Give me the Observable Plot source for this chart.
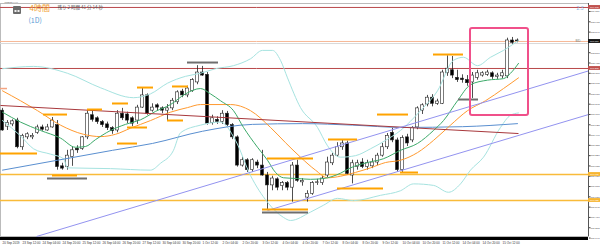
<!DOCTYPE html>
<html><head><meta charset="utf-8">
<script src="https://cdn.jsdelivr.net/npm/d3@7"></script>
<script src="https://cdn.jsdelivr.net/npm/@observablehq/plot@0.6"></script>
<style>
html,body{margin:0;padding:0;background:#fff;}
#chart svg{display:block;}
</style></head><body><div id="chart"></div>
<script>
// ---- candles (USDJPY H4), index 0 = 20 Sep 20:00 ----
const candleOpen = [107.81,107.60,107.63,107.68,107.33,107.46,107.46,107.52,107.59,107.55,107.59,107.62,107.08,107.07,107.20,107.31,107.31,107.46,107.75,107.71,107.66,107.63,107.58,107.55,107.77,107.76,107.71,107.68,107.85,108.01,107.81,107.88,107.84,107.81,107.84,107.92,108.06,108.01,108.07,108.18,108.31,108.28,107.65,107.69,107.66,107.77,107.62,107.46,107.09,107.16,107.03,107.13,107.09,106.96,106.83,106.91,106.82,106.86,106.80,107.09,106.87,106.67,106.72,106.86,106.86,106.96,107.12,107.22,107.33,107.38,106.96,107.07,107.13,107.07,107.08,107.13,107.22,107.33,107.52,107.42,107.03,107.46,107.42,107.59,107.81,107.89,107.98,107.90,107.90,108.30,108.34,108.24,108.23,108.21,108.18,108.24,108.27,108.28,108.30,108.25,108.26,108.26,108.73,108.73];
const candleHigh = [107.84,107.68,107.69,107.71,107.50,107.52,107.51,107.62,107.62,107.63,107.72,107.68,107.12,107.29,107.34,107.35,107.47,107.81,107.81,107.73,107.68,107.66,107.60,107.81,107.84,107.79,107.73,107.88,108.10,108.03,107.90,107.90,107.86,107.89,107.97,108.07,108.09,108.13,108.23,108.40,108.39,108.31,107.75,107.73,107.81,107.80,107.64,107.48,107.20,107.18,107.18,107.16,107.29,107.00,106.95,106.93,106.88,106.88,107.13,107.16,106.92,106.76,106.88,106.91,106.95,107.20,107.25,107.39,107.42,107.41,107.16,107.16,107.18,107.16,107.18,107.25,107.38,107.51,107.58,107.45,107.48,107.50,107.60,107.86,107.90,108.01,108.02,107.96,108.34,108.53,108.52,108.34,108.28,108.27,108.31,108.34,108.32,108.34,108.32,108.30,108.34,108.76,108.77,108.75];
const candleLow = [107.54,107.55,107.60,107.31,107.29,107.43,107.43,107.50,107.54,107.54,107.58,107.03,107.03,107.03,107.08,107.25,107.29,107.43,107.66,107.63,107.59,107.55,107.50,107.52,107.68,107.64,107.60,107.63,107.84,107.75,107.79,107.81,107.77,107.68,107.81,107.89,107.98,107.98,108.05,108.15,108.26,107.62,107.62,107.63,107.63,107.60,107.43,107.07,107.07,107.00,107.00,107.05,106.95,106.51,106.76,106.76,106.76,106.76,106.61,106.87,106.82,106.61,106.70,106.83,106.83,106.93,107.09,107.20,107.29,106.96,106.85,107.03,107.05,107.03,107.05,107.09,107.20,107.30,107.39,107.00,107.00,107.34,107.39,107.56,107.76,107.86,107.86,107.88,107.89,108.26,108.23,108.18,108.17,108.13,107.97,108.21,108.25,108.26,108.22,108.22,108.23,108.23,108.68,108.70];
const candleClose = [107.55,107.65,107.67,107.33,107.48,107.50,107.48,107.59,107.56,107.59,107.68,107.07,107.05,107.22,107.29,107.29,107.46,107.77,107.69,107.66,107.62,107.58,107.54,107.77,107.71,107.68,107.64,107.85,108.01,107.77,107.85,107.85,107.81,107.84,107.94,108.05,108.01,108.10,108.21,108.31,108.27,107.64,107.71,107.66,107.77,107.62,107.46,107.09,107.16,107.03,107.16,107.09,106.96,106.83,106.92,106.80,106.86,106.80,107.09,106.89,106.89,106.72,106.86,106.87,106.92,107.13,107.22,107.33,107.38,106.98,107.12,107.12,107.07,107.12,107.13,107.22,107.33,107.48,107.42,107.03,107.45,107.38,107.58,107.84,107.88,107.98,107.90,107.93,108.31,108.36,108.27,108.21,108.21,108.17,108.27,108.30,108.30,108.31,108.25,108.27,108.30,108.73,108.70,108.72];

// ---- indicator lines (candle index, price) ----
const greenI = [0,3.6,7.6,11.6,14.6,16.6,18.6,21.6,24.6,27.6,30.6,33.6,36.6,39.6,41.6,43.6,46.2,48.2,51,53,54.6,56.2,59,61.6,64.2,67.6,69.6,73,76.2,79.6,83,86.2,88.2,91,93.6,97,100.2,101.6,103.2];
const greenP = [107.79,107.66,107.55,107.45,107.33,107.34,107.43,107.55,107.63,107.69,107.80,107.89,108.03,108.10,108.03,107.94,107.81,107.59,107.33,107.16,107.00,106.93,106.92,106.91,106.92,106.99,107.06,107.13,107.18,107.29,107.38,107.55,107.68,107.94,108.15,108.21,108.23,108.30,108.43];
const orangeI = [0,3.6,7,11.6,16.2,19.6,22.6,25.6,29.6,33.6,37,39.6,45.6,49.6,53.6,56.6,59.6,62.6,65,67.6,70.6,73.6,76.6,79.6,83,86.2,89.6,93,96.6,100.2,103.2];
const orangeP = [108.07,107.94,107.81,107.62,107.50,107.47,107.50,107.58,107.68,107.79,107.85,107.89,107.89,107.81,107.59,107.39,107.20,107.03,106.93,106.95,107.00,107.06,107.13,107.16,107.26,107.42,107.62,107.81,107.94,108.10,108.24];
const upperI = [0,6.2,13,19.6,26.2,29.6,33,36.6,39.6,42.6,46.2,49.6,52,54,55.6,57,59.6,63,65,67.6,70.6,73.6,76.6,79.6,83.6,87,90.2,92.2,95,97.6,100.2,103.2];
const upperP = [108.36,108.39,108.30,108.11,107.98,108.03,108.17,108.26,108.30,108.36,108.40,108.49,108.60,108.60,108.47,108.24,107.85,107.59,107.35,107.20,107.22,107.31,107.42,107.55,107.81,108.07,108.47,108.51,108.40,108.51,108.60,108.73];
const lowerI = [0,3.6,6.2,9.6,12.2,13,21.6,29.6,31.6,34.2,35.6,39.6,43.6,46.6,49.6,53,56.2,57.6,61.6,64.2,67,70.2,75.6,79.6,82.2,86.2,89.2,91.6,93.6,96.2,99.6,101.6,103.2];
const lowerP = [107.68,107.48,107.31,107.24,107.18,107.06,107.05,107.03,107.12,107.29,107.52,107.62,107.66,107.42,106.96,106.61,106.41,106.37,106.48,106.57,106.66,106.63,106.70,106.76,106.85,106.83,106.74,106.85,107.03,107.20,107.59,107.75,107.78];
const blueI = [0,11,22,30,40,50,60,70,80,92,103];
const blueP = [107.03,107.16,107.29,107.38,107.54,107.63,107.64,107.62,107.59,107.60,107.64];

// ---- drawn objects ----
const redLevels = [109.163, 108.363];
const bidLevel = [108.717];
const askLevel = [108.690];
const orangeLevels = [106.973, 106.632];
const redTrend = {i1: -0.4, p1: 107.878, i2: 103.2, p2: 107.510};
const channelLines = [
  {i1: 6.8, p1: 106.16, i2: 117.2, p2: 108.331},
  {i1: 53, p1: 106.501, i2: 117.2, p2: 107.759}
];
const orangeSegs = [
  {i1:-0.4,i2:7,p:107.248},{i1:8.2,i2:13,p:107.759},{i1:17,i2:20,p:107.825},{i1:22,i2:25.2,p:107.904},
  {i1:25,i2:29,p:107.589},{i1:23,i2:27,p:107.379},{i1:27,i2:30.2,p:108.113},{i1:33,i2:36.2,p:107.681},
  {i1:34,i2:37.2,p:108.127},{i1:10,i2:15,p:106.960},{i1:53,i2:62.2,p:107.183},{i1:75,i2:81.2,p:107.759},
  {i1:65.2,i2:71,p:107.432},{i1:52,i2:61.2,p:106.514},{i1:67,i2:76.2,p:106.789},{i1:79.6,i2:83.2,p:106.999},
  {i1:86.2,i2:92.2,p:108.546}
];
const graySegs = [
  {i1:37,i2:43.2,p:108.441},{i1:9,i2:17,p:106.921},{i1:52,i2:61.2,p:106.474},{i1:91.2,i2:95.2,p:107.956}
];
const salmonSegs = [{i1:-0.4,i2:1,p:108.100}];
const highlight = [{i1: 93.6, i2: 105.2, p1: 108.887, p2: 107.746}];

// ---- axes ----
const xDomain = [-0.4, 117.2];
const yDomain = [106.16, 109.215];
const yTicks = [109.110,108.975,108.840,108.705,108.570,108.435,108.300,108.165,108.030,107.895,107.760,107.625,107.490,107.355,107.220,107.085,106.950,106.815,106.680,106.545,106.410,106.275,106.140];
const xTickIdx = [0,4,8,12,16,20,24,28,32,36,40,44,48,52,56,60,64,68,72,76,80,84,88,92,96,100];
const xTickLabels = ["20 Sep 2019","23 Sep 12:00","24 Sep 04:00","24 Sep 20:00","25 Sep 12:00","26 Sep 04:00","26 Sep 20:00","27 Sep 12:00","30 Sep 04:00","30 Sep 20:00","1 Oct 12:00","2 Oct 04:00","2 Oct 20:00","3 Oct 12:00","4 Oct 04:00","4 Oct 20:00","7 Oct 12:00","8 Oct 04:00","8 Oct 20:00","9 Oct 12:00","10 Oct 04:00","10 Oct 20:00","11 Oct 12:00","14 Oct 04:00","14 Oct 20:00","15 Oct 12:00"];
const tags = [
  {p: 109.163, kind: "red"}, {p: 108.717, kind: "bid"}, {p: 108.363, kind: "red"},
  {p: 106.973, kind: "orange"}, {p: 106.632, kind: "orange"}
];

const candles = candleOpen.map((o, i) => ({i, open: o, high: candleHigh[i], low: candleLow[i], close: candleClose[i]}));
const xLabel = new Map(xTickIdx.map((d, k) => [d, xTickLabels[k]]));
const tagColor = {red: "#c0504d", bid: "#111", orange: "#f7b531"};
const tagH = 0.025;

const chart = Plot.plot({
  width: 600, height: 248,
  marginLeft: 0, marginRight: 12, marginTop: 3, marginBottom: 12,
  x: {domain: xDomain, axis: null},
  y: {domain: yDomain, axis: null},
  style: {fontFamily: "'Liberation Sans', 'DejaVu Sans', sans-serif", background: "#fff", overflow: "visible"},
  marks: [
    Plot.frame({stroke: "#bbb"}),
    // horizontal levels
    Plot.ruleY(askLevel, {stroke: "#d8d8d8", strokeWidth: 1}),
    Plot.ruleY(bidLevel, {stroke: "#f6b896", strokeWidth: 1}),
    Plot.ruleY(redLevels, {stroke: "#b9474a", strokeWidth: 1}),
    Plot.ruleY(orangeLevels, {stroke: "#f9bb3a", strokeWidth: 1.3}),
    // candles
    Plot.ruleX(candles, {x: "i", y1: "low", y2: "high", stroke: "#222", strokeWidth: 0.8}),
    Plot.rect(candles, {x1: d => d.i - 0.3, x2: d => d.i + 0.3, y1: "open", y2: "close",
      fill: d => d.close >= d.open ? "#fff" : "#000", stroke: "#222", strokeWidth: 0.6}),
    // indicators
    Plot.line(upperI, {x: upperI, y: upperP, stroke: "#a6e3e0", strokeWidth: 1, curve: "monotone-x"}),
    Plot.line(lowerI, {x: lowerI, y: lowerP, stroke: "#a6e3e0", strokeWidth: 1, curve: "monotone-x"}),
    Plot.line(blueI, {x: blueI, y: blueP, stroke: "#5a8fd0", strokeWidth: 1, curve: "monotone-x"}),
    Plot.line(orangeI, {x: orangeI, y: orangeP, stroke: "#ff9a30", strokeWidth: 1, curve: "monotone-x"}),
    Plot.line(greenI, {x: greenI, y: greenP, stroke: "#3daa6a", strokeWidth: 1, curve: "monotone-x"}),
    // trend lines
    Plot.link([redTrend], {x1: "i1", y1: "p1", x2: "i2", y2: "p2", stroke: "#a8383c", strokeWidth: 1}),
    Plot.link(channelLines, {x1: "i1", y1: "p1", x2: "i2", y2: "p2", stroke: "#9393f0", strokeWidth: 1}),
    // short markers
    Plot.ruleY(orangeSegs, {y: "p", x1: "i1", x2: "i2", stroke: "#ffa300", strokeWidth: 2}),
    Plot.ruleY(graySegs, {y: "p", x1: "i1", x2: "i2", stroke: "#6e6e6e", strokeWidth: 2}),
    Plot.ruleY(salmonSegs, {y: "p", x1: "i1", x2: "i2", stroke: "#f4a582", strokeWidth: 1.5}),
    // highlight box
    Plot.rect(highlight, {x1: "i1", x2: "i2", y1: "p1", y2: "p2", fill: "none", stroke: "#f0508a", strokeWidth: 2, rx: 2}),
    // axes
    Plot.ruleX([xDomain[1]], {stroke: "#555", strokeWidth: 1}),
    Plot.axisY(yTicks, {anchor: "right", tickSize: 1.5, tickPadding: 0.5, fontSize: 2.5, color: "#444", tickFormat: d => d.toFixed(3)}),
    Plot.axisX(xTickIdx, {anchor: "bottom", tickSize: 0, tickPadding: 5, fontSize: 3, color: "#333", textAnchor: "start", tickFormat: d => xLabel.get(d)}),
    // price tags on the axis
    Plot.rect(tags, {x1: xDomain[1], x2: xDomain[1] + 2.4, y1: d => d.p - tagH, y2: d => d.p + tagH, fill: d => tagColor[d.kind]}),
    Plot.text(tags, {x: xDomain[1] + 0.3, y: "p", text: d => d.p.toFixed(3), fill: "#fff", fontSize: 2.4, textAnchor: "start"}),
    // texts
    Plot.text(["USDJPY,H4"], {text: d => d, frameAnchor: "top-left", dx: 4, dy: -1.5, fontSize: 2.5, fill: "#555", textAnchor: "start", lineAnchor: "middle"}),
    Plot.text(["4時間"], {text: d => d, frameAnchor: "top-left", dx: 29, dy: 2, fontSize: 8, fill: "#f0a030", textAnchor: "start", lineAnchor: "top", fontFamily: "'Noto Sans CJK JP'"}),
    Plot.text(["(1D)"], {text: d => d, frameAnchor: "top-left", dx: 28, dy: 15, fontSize: 7, fill: "#5b9bd5", textAnchor: "start", lineAnchor: "top", fontFamily: "'Noto Sans CJK JP'", letterSpacing: "1px"}),
    Plot.text(["残り 2 時間 41 分 14 秒"], {text: d => d, frameAnchor: "top-left", dx: 57, dy: 2, fontSize: 4.5, fill: "#555", textAnchor: "start", lineAnchor: "top", fontFamily: "'Noto Sans CJK JP'"}),
    Plot.text(["2.3"], {text: d => d, frameAnchor: "top-right", dx: -5, dy: 3, fontSize: 5, fill: "#8ab0dd", textAnchor: "end", lineAnchor: "top"}),
    Plot.text(["BID"], {text: d => d, x: xDomain[1] - 2.6, y: bidLevel[0], fontSize: 3, fill: "#777", textAnchor: "start"})
  ]
});

const svg = d3.select(chart);
// bottom black bar and small chart icon
svg.append("rect").attr("x", 0).attr("y", 237).attr("width", 588).attr("height", 3).attr("fill", "#000");
svg.append("rect").attr("x", 13).attr("y", 6).attr("width", 8).attr("height", 8).attr("rx", 1).attr("fill", "#6b6b6b");
svg.append("rect").attr("x", 14.5).attr("y", 10).attr("width", 2).attr("height", 2).attr("fill", "#eee");
svg.append("rect").attr("x", 17.5).attr("y", 10).attr("width", 2).attr("height", 2).attr("fill", "#eee");
document.getElementById("chart").appendChild(chart);
</script></body></html>
